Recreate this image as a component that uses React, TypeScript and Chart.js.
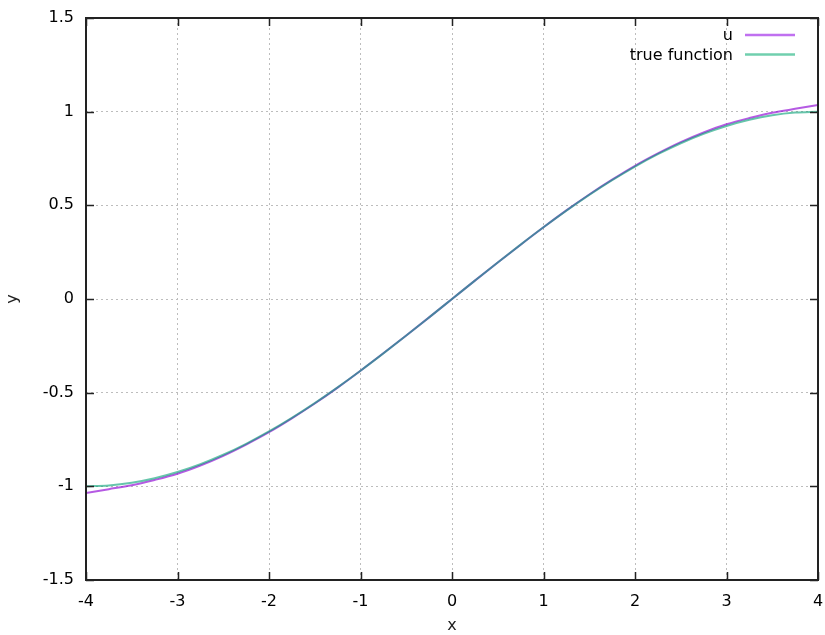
import React, { useEffect, useRef } from "react";
import { Chart, registerables } from "chart.js";

Chart.register(...registerables);

const xValues = [
  -4, -3.75, -3.5, -3.25, -3, -2.75, -2.5, -2.25, -2, -1.75, -1.5, -1.25, -1, -0.75, -0.5, -0.25,
  0, 0.25, 0.5, 0.75, 1, 1.25, 1.5, 1.75, 2, 2.25, 2.5, 2.75, 3, 3.25, 3.5, 3.75, 4,
];

const uValues = [
  -1.035, -1.015, -0.994, -0.966, -0.933, -0.889, -0.837, -0.777, -0.711, -0.637, -0.558, -0.473,
  -0.383, -0.29, -0.195, -0.098, 0, 0.098, 0.195, 0.29, 0.383, 0.473, 0.558, 0.637, 0.711, 0.777,
  0.837, 0.889, 0.933, 0.966, 0.994, 1.015, 1.035,
];

const trueValues = [
  -1.0, -0.9952, -0.9808, -0.9569, -0.9239, -0.8819, -0.8315, -0.773, -0.7071, -0.6344, -0.5556,
  -0.4714, -0.3827, -0.2903, -0.1951, -0.098, 0, 0.098, 0.1951, 0.2903, 0.3827, 0.4714, 0.5556,
  0.6344, 0.7071, 0.773, 0.8315, 0.8819, 0.9239, 0.9569, 0.9808, 0.9952, 1.0,
];

const xTicks = [-4, -3, -2, -1, 0, 1, 2, 3, 4];
const yTicks = [-1.5, -1, -0.5, 0, 0.5, 1, 1.5];

const seriesLabels = ["u", "true function"];
const seriesColors = ["rgba(150,20,215,0.7)", "rgba(0,158,115,0.6)"];
const seriesOrder = [1, 0];
const legendColors = ["#c070f0", "#70cfae"];

const FONT = "DejaVu Sans";

const framePlugin = {
  id: "gnuplotFrame",
  afterDatasetsDraw(chart: any) {
    const { ctx, chartArea, scales } = chart;
    const { left, right, top, bottom } = chartArea;
    ctx.save();
    ctx.strokeStyle = "#222";
    ctx.lineWidth = 1.5;
    const tl = 8;
    ctx.beginPath();
    xTicks.forEach((v) => {
      const px = Math.round(scales.x.getPixelForValue(v)) + 0.5;
      ctx.moveTo(px, bottom);
      ctx.lineTo(px, bottom - tl);
      ctx.moveTo(px, top);
      ctx.lineTo(px, top + tl);
    });
    yTicks.forEach((v) => {
      const py = Math.round(scales.y.getPixelForValue(v)) + 0.5;
      ctx.moveTo(left, py);
      ctx.lineTo(left + tl, py);
      ctx.moveTo(right, py);
      ctx.lineTo(right - tl, py);
    });
    ctx.stroke();
    ctx.lineWidth = 2;
    ctx.strokeRect(left, top, right - left, bottom - top);

    // legend
    ctx.font = `16px "${FONT}"`;
    ctx.fillStyle = "#000";
    ctx.textAlign = "right";
    ctx.textBaseline = "middle";
    seriesLabels.forEach((lab, i) => {
      const y = top + 17 + i * 19.5;
      ctx.fillText(lab, right - 85, y + 1);
      ctx.strokeStyle = legendColors[i];
      ctx.lineWidth = 2.5;
      ctx.beginPath();
      ctx.moveTo(right - 73, y);
      ctx.lineTo(right - 23, y);
      ctx.stroke();
    });
    ctx.restore();
  },
};

export default function App() {
  const ref = useRef<HTMLCanvasElement>(null);
  useEffect(() => {
    document.body.style.margin = "0";
    const chart = new Chart(ref.current!, {
      type: "line",
      data: {
        datasets: [uValues, trueValues].map((vals, i) => ({
          label: seriesLabels[i],
          data: xValues.map((x, j) => ({ x, y: vals[j] })),
          borderColor: seriesColors[i],
          borderWidth: 2,
          pointRadius: 0,
          order: seriesOrder[i],
          cubicInterpolationMode: "monotone" as const,
          fill: false,
        })),
      },
      options: {
        animation: false,
        responsive: true,
        maintainAspectRatio: false,
        layout: { padding: { top: 18, right: 7, left: 0, bottom: 0 } },
        plugins: { legend: { display: false }, tooltip: { enabled: false } },
        scales: {
          x: {
            type: "linear",
            min: -4,
            max: 4,
            afterFit: (s: any) => {
              s.height = 55;
              s.paddingLeft = 0;
              s.paddingRight = 0;
            },
            afterBuildTicks: (s: any) => {
              s.ticks = xTicks.map((v) => ({ value: v }));
            },
            grid: {
              color: "#bdbdbd",
              lineWidth: 1,
              drawTicks: false,
            },
            border: { display: false, dash: [2, 3] },
            ticks: {
              padding: 12,
              color: "#000",
              font: { family: FONT, size: 16 },
              maxRotation: 0,
              callback: (v: any) => String(v),
            },
            title: {
              display: true,
              text: "x",
              color: "#222",
              font: { family: FONT, size: 16 },
              padding: { top: 0, bottom: 0 },
            },
          },
          y: {
            type: "linear",
            min: -1.5,
            max: 1.5,
            afterFit: (s: any) => {
              s.width = 86;
              s.paddingTop = 0;
              s.paddingBottom = 0;
            },
            afterBuildTicks: (s: any) => {
              s.ticks = yTicks.map((v) => ({ value: v }));
            },
            grid: { color: "#bdbdbd", lineWidth: 1, drawTicks: false },
            border: { display: false, dash: [2, 3] },
            ticks: {
              padding: 12,
              color: "#000",
              font: { family: FONT, size: 16 },
              callback: (v: any) => String(v),
            },
            title: {
              display: true,
              text: "y",
              color: "#222",
              font: { family: FONT, size: 16 },
              padding: { top: 3, bottom: 0 },
            },
          },
        },
      },
      plugins: [framePlugin],
    });
    return () => chart.destroy();
  }, []);
  return (
    <div style={{ width: 825, height: 635, position: "relative" }}>
      <canvas ref={ref} />
    </div>
  );
}
